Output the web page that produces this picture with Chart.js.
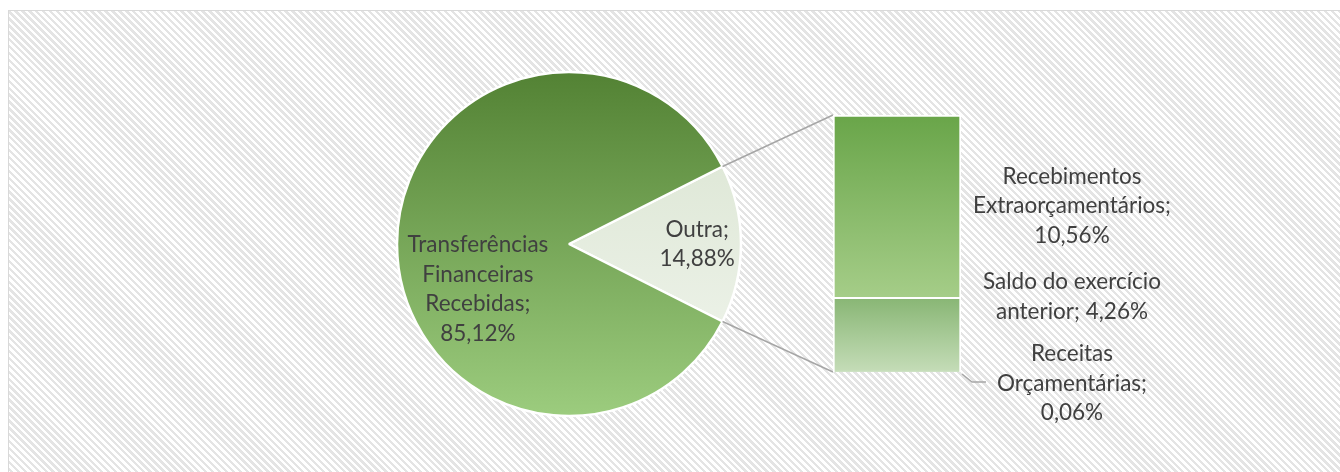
<!DOCTYPE html>
<html>
<head>
<meta charset="utf-8">
<script src="https://cdn.jsdelivr.net/npm/chart.js@4.4.1/dist/chart.umd.min.js"></script>
<style>
  html, body { margin: 0; padding: 0; background: #fff; width: 1340px; height: 472px; overflow: hidden; }
  #frame {
    position: absolute; left: 8px; top: 10px; width: 1340px; height: 470px;
    border-top: 1.5px solid #d9d9d9; border-left: 1.5px solid #d9d9d9;
    background: repeating-linear-gradient(45deg, #ffffff 0 2.45px, #e4e4e4 2.45px 4.9px);
  }
  canvas { position: absolute; left: 0; top: 0; }
</style>
</head>
<body>
<div id="frame"></div>
<canvas id="pie" width="1340" height="472"></canvas>
<canvas id="bar" width="1340" height="472"></canvas>
<script>
// pie: "Outra" is the slice that gets broken out into the bar
const pieNames = [['Outra'], ['Transferências', 'Financeiras', 'Recebidas']];
const pieValues = [14.88, 85.12];

// bar, stacked from the bottom up
const barNames = [['Receitas', 'Orçamentárias'], ['Saldo do exercício', 'anterior'], ['Recebimentos', 'Extraorçamentários']];
const barValues = [0.06, 4.26, 10.56];

const FONT = '22.5px Lato';
const TEXT = '#404040';
const LINE = '#a6a6a6';
const LINE_H = 29.5;

function pct(v) {
  return v.toFixed(2).replace('.', ',') + '%';
}

// label text: name lines, ";" on the last, then the percentage (inline or on its own line)
function labelLines(name, v, inline) {
  const lines = name.slice();
  const last = lines.length - 1;
  if (inline) lines[last] = lines[last] + '; ' + pct(v);
  else { lines[last] = lines[last] + ';'; lines.push(pct(v)); }
  return lines;
}

function drawBlock(ctx, lines, x, y) {
  ctx.save();
  ctx.font = FONT;
  ctx.fillStyle = TEXT;
  ctx.textAlign = 'center';
  ctx.textBaseline = 'middle';
  lines.forEach((l, i) => ctx.fillText(l, x, y + i * LINE_H));
  ctx.restore();
}

function pieFill(context) {
  const chart = context.chart;
  const area = chart.chartArea;
  const dark = context.dataIndex === 0 ? '#d8e3cf' : '#538234';
  const light = context.dataIndex === 0 ? '#f2f6ef' : '#9ccc7e';
  if (!area) return dark;
  const cy = (area.top + area.bottom) / 2;
  const g = chart.ctx.createLinearGradient(0, cy - 172, 0, cy + 172);
  g.addColorStop(0, dark);
  g.addColorStop(1, light);
  return g;
}

const barColors = [['#a9cc98', '#cfe3c6'], ['#88b674', '#c4dcb7'], ['#69a549', '#a5cd88']];

function barFill(context) {
  const chart = context.chart;
  const y = chart.scales && chart.scales.y;
  const c = barColors[context.datasetIndex];
  if (!chart.chartArea || !y) return c[0];
  let start = 0;
  for (let i = 0; i < context.datasetIndex; i++) start += barValues[i];
  const top = y.getPixelForValue(start + barValues[context.datasetIndex]);
  const bottom = y.getPixelForValue(start);
  const g = chart.ctx.createLinearGradient(0, top, 0, Math.max(bottom, top + 1));
  g.addColorStop(0, c[0]);
  g.addColorStop(1, c[1]);
  return g;
}

const pieLabelPlugin = {
  id: 'pieLabels',
  afterDraw(chart) {
    const ctx = chart.ctx;
    chart.getDatasetMeta(0).data.forEach((arc, i) => {
      const mid = (arc.startAngle + arc.endAngle) / 2;
      const lines = labelLines(pieNames[i], pieValues[i], false);
      if (i === 0) {
        const x = arc.x + Math.cos(mid) * arc.outerRadius * 0.745;
        const y = arc.y + Math.sin(mid) * arc.outerRadius * 0.745;
        drawBlock(ctx, lines, x, y - (lines.length - 1) * LINE_H / 2);
      } else {
        const x = arc.x + Math.cos(mid) * arc.outerRadius * 0.53;
        const y = arc.y + Math.sin(mid) * arc.outerRadius * 0.53;
        drawBlock(ctx, lines, x, y + 1);
      }
    });
  }
};

const pieChart = new Chart(document.getElementById('pie'), {
  type: 'pie',
  data: {
    labels: pieNames.map(n => n.join(' ')),
    datasets: [{
      data: pieValues,
      backgroundColor: pieFill,
      borderColor: '#ffffff',
      borderWidth: 2.5,
      radius: 172
    }]
  },
  options: {
    responsive: false,
    animation: false,
    events: [],
    // put the "Outra" slice centred on the right side
    rotation: 90 - pieValues[0] / 100 * 180,
    layout: { padding: { left: 369, right: 571, top: 44, bottom: 28 } },
    plugins: { legend: { display: false }, tooltip: { enabled: false } }
  },
  plugins: [pieLabelPlugin]
});

const connectorPlugin = {
  id: 'connectors',
  beforeDatasetsDraw(chart) {
    const arc = pieChart.getDatasetMeta(0).data[0];
    const metas = barValues.map((v, i) => chart.getDatasetMeta(i).data[0]);
    const topBar = metas[metas.length - 1];
    const left = topBar.x - topBar.width / 2;
    const ctx = chart.ctx;
    ctx.save();
    ctx.strokeStyle = LINE;
    ctx.lineWidth = 1.5;
    ctx.beginPath();
    ctx.moveTo(arc.x + Math.cos(arc.startAngle) * arc.outerRadius, arc.y + Math.sin(arc.startAngle) * arc.outerRadius);
    ctx.lineTo(left, topBar.y);
    ctx.moveTo(arc.x + Math.cos(arc.endAngle) * arc.outerRadius, arc.y + Math.sin(arc.endAngle) * arc.outerRadius);
    ctx.lineTo(left, metas[0].base);
    ctx.stroke();
    ctx.restore();
  },
  afterDraw(chart) {
    const ctx = chart.ctx;
    const offsets = [12, -37.5, 0];
    barValues.forEach((v, i) => {
      const el = chart.getDatasetMeta(i).data[0];
      const right = el.x + el.width / 2;
      const mid = (el.y + el.base) / 2;
      const lines = labelLines(barNames[i], v, i === 1);
      const cy = mid + offsets[i];
      drawBlock(ctx, lines, right + 111, cy - (lines.length - 1) * LINE_H / 2);
    });
    // leader line for the tiny bottom segment
    const first = chart.getDatasetMeta(0).data[0];
    const r = first.x + first.width / 2;
    ctx.save();
    ctx.strokeStyle = LINE;
    ctx.lineWidth = 1.5;
    ctx.beginPath();
    ctx.moveTo(r + 1, first.base + 2);
    ctx.lineTo(r + 11, first.base + 10);
    ctx.lineTo(r + 25, first.base + 10);
    ctx.stroke();
    ctx.restore();
  }
};

const barSum = barValues.reduce((a, b) => a + b, 0);

new Chart(document.getElementById('bar'), {
  type: 'bar',
  data: {
    labels: [''],
    datasets: barValues.map((v, i) => ({
      label: barNames[i].join(' '),
      data: [v],
      backgroundColor: barFill,
      borderColor: '#ffffff',
      borderWidth: 2,
      barPercentage: 1,
      categoryPercentage: 1
    }))
  },
  options: {
    responsive: false,
    animation: false,
    events: [],
    layout: { padding: { left: 833, right: 379, top: 115, bottom: 100 } },
    scales: {
      x: { stacked: true, display: false },
      y: { stacked: true, display: false, min: 0, max: barSum }
    },
    plugins: { legend: { display: false }, tooltip: { enabled: false } }
  },
  plugins: [connectorPlugin]
});
</script>
</body>
</html>
